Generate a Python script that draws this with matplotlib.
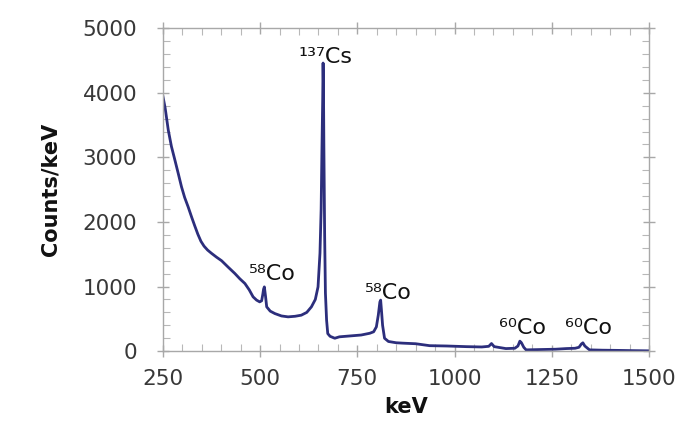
import matplotlib
matplotlib.use("Agg")
import matplotlib.pyplot as plt
from matplotlib.ticker import MultipleLocator

# gamma spectrum, energy (keV) vs counts per keV
energy = [250, 256, 264, 272, 281, 290, 298, 306, 315, 324, 332, 340, 348, 356,
          365, 375, 388, 401, 418, 435, 448, 461, 472, 482, 491, 499, 504, 507,
          509, 511, 514, 517, 526, 538, 555, 572, 590, 606, 620, 632, 642, 649,
          654, 657, 659, 661, 662, 663, 664, 666, 668, 671, 674, 680, 692, 704,
          730, 760, 782, 792, 799, 804, 808, 810, 812, 815, 820, 830, 850, 867,
          900, 936, 980, 1030, 1070, 1088, 1095, 1102, 1132, 1155, 1163, 1168,
          1172, 1178, 1184, 1220, 1260, 1287, 1310, 1320, 1326, 1330, 1335, 1347,
          1380, 1420, 1460, 1500]
counts = [3950, 3760, 3420, 3170, 2957, 2740, 2543, 2380, 2234, 2075, 1940, 1810,
          1700, 1625, 1565, 1515, 1455, 1400, 1300, 1203, 1120, 1047, 950, 841,
          790, 763, 780, 880, 960, 995, 850, 686, 620, 582, 545, 531, 540, 557,
          600, 686, 800, 995, 1517, 2200, 3100, 3900, 4460, 4100, 3200, 1800,
          900, 480, 272, 230, 200, 222, 235, 250, 277, 300, 376, 560, 760, 790,
          640, 400, 200, 150, 130, 124, 115, 85, 80, 70, 65, 75, 118, 70, 40, 45,
          80, 155, 130, 60, 20, 25, 30, 40, 45, 60, 110, 129, 80, 20, 15, 12, 8, 5]

# isotope labels: text, x (keV), y (counts)
labels = ["¹³⁷Cs", "⁵⁸Co", "⁵⁸Co", "⁶⁰Co", "⁶⁰Co"]
label_x = [668, 531, 830, 1175, 1345]
label_y = [4560, 1200, 905, 365, 365]

fig = plt.figure(figsize=(6.93, 4.33), dpi=100)
ax = fig.add_axes([0.235, 0.189, 0.7015, 0.746])

ax.plot(energy, counts, color="#2c2e7c", lw=2.0, solid_joinstyle="round")

for txt, lx, ly in zip(labels, label_x, label_y):
    ax.text(lx, ly, txt, ha="center", va="center", fontsize=16, color="#111111")

ax.set_xlim(250, 1500)
ax.set_ylim(0, 5000)
ax.xaxis.set_major_locator(MultipleLocator(250))
ax.xaxis.set_minor_locator(MultipleLocator(50))
ax.yaxis.set_major_locator(MultipleLocator(1000))
ax.yaxis.set_minor_locator(MultipleLocator(200))

for sp in ax.spines.values():
    sp.set_color("#a8a8a8")
    sp.set_linewidth(1.0)

ax.tick_params(which="major", direction="inout", length=9, width=1,
               color="#a8a8a8", labelsize=15.5, labelcolor="#383838",
               top=True, right=True)
ax.tick_params(axis="x", which="major", pad=8)
ax.tick_params(axis="y", which="major", pad=14)
ax.tick_params(which="minor", direction="in", length=5, width=0.8,
               color="#b8b8b8", top=True, right=True)

ax.set_xlabel("keV", fontsize=15, fontweight="bold", color="#111111", labelpad=6)
ax.set_ylabel("Counts/keV", fontsize=15, fontweight="bold", color="#111111",
              labelpad=16)

fig.savefig("out.png", dpi=100)
